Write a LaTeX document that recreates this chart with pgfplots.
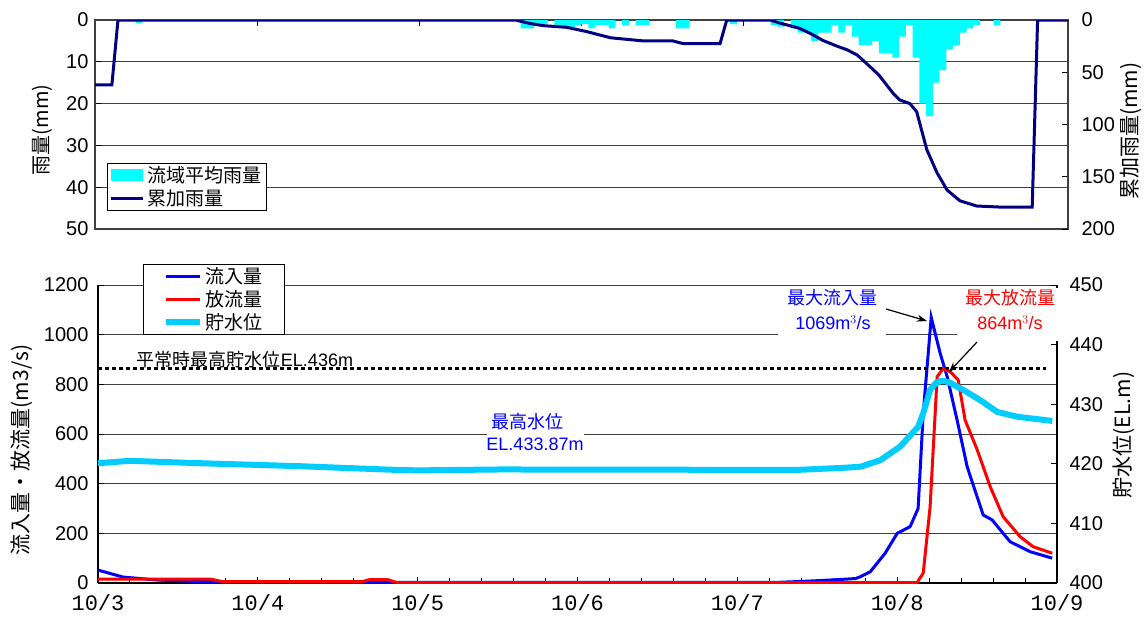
\documentclass[border=0pt]{standalone}
\usepackage{pgfplots}
\pgfplotsset{compat=1.18}
\usepackage{pgfplotstable}
\usetikzlibrary{arrows.meta}
\usepackage{fontspec}
\setmainfont{Liberation Sans}
\newfontfamily\jp{Noto Sans CJK JP}
\newfontfamily\mono{Liberation Mono}
\definecolor{navy}{RGB}{0,0,128}
\definecolor{aqua}{RGB}{0,255,255}
\definecolor{skyc}{RGB}{0,204,255}
\definecolor{gridc}{RGB}{64,64,64}
\newcommand{\tk}{\fontsize{20}{24}\selectfont}
\pgfplotsset{/pgf/number format/1000 sep={}}

\pgfplotstableread{
h r
6.5 0.8
63.5 2
64.5 2
65.5 1.2
66.5 1
68.5 1.5
69.5 1.5
70.5 1.8
71.5 1.2
72.5 1
73.5 2
74.5 1.2
75.5 1.2
76.5 2
78.5 1.2
80.5 1.2
81.5 1.2
86.5 2
87.5 2
94.5 1
100.5 1.2
101.5 1.6
103.5 2
104.5 3
105.5 3
106.5 5
107.5 3
108.5 3
109.5 1.2
110.5 3
111.5 1.2
112.5 4
113.5 6
114.5 6
115.5 5
116.5 8
117.5 8
118.5 9
119.5 4
120.5 1.2
121.5 9
122.5 20
123.5 23
124.5 15
125.5 12
126.5 7
127.5 6
128.5 3
129.5 2
130.5 1.2
133.5 1.2
}\rain

\pgfplotstableread{
h c
0 62
2.5 62
3.4 0
62.2 0
64.3 3.2
66.3 5.4
69.8 7
72.7 11
76.3 17
81.1 20
85.5 20
87.1 22.7
92.5 22.7
93.5 0
99.9 0
101.4 3
104.3 8
106.2 14
107.7 19.5
109.8 25
111.3 28.5
112.8 33.5
114.7 44.7
116.0 52.6
118.1 70
119.1 76.5
120.6 80
121.6 87.7
123.1 124
124.6 146
126.1 162.7
128.0 173
130.5 178
133.9 179
138.7 179
139.5 0
144 0
}\cum

\pgfplotstableread{
d q
0 52
0.156 24
0.37 12
0.64 6
0.83 4
1.26 3
1.76 2
4.27 3
4.46 8
4.64 14
4.74 18
4.768 25
4.831 45
4.925 120
5.000 200
5.081 227
5.131 300
5.163 684
5.213 1069
5.269 925
5.313 830
5.375 656
5.438 468
5.538 274
5.594 254
5.707 166
5.832 126
5.970 100
}\inflow

\pgfplotstableread{
d q
0 16
0.70 16
0.776 6
1.658 6
1.70 14
1.81 14
1.87 2
5.125 2
5.163 40
5.206 307
5.250 831
5.288 864
5.332 851
5.382 817
5.425 656
5.501 536
5.582 388
5.663 267
5.770 186
5.851 146
5.970 120
}\outflow

\pgfplotstableread{
d w
0 420.1
0.2 420.5
0.638 420.1
1.264 419.6
1.89 418.95
2.015 418.9
2.516 419.05
3.767 419.0
4.393 419.0
4.643 419.3
4.768 419.5
4.894 420.6
5.019 422.9
5.131 426.2
5.163 428.5
5.206 432.4
5.240 433.5
5.269 433.87
5.300 433.85
5.332 433.6
5.413 432.4
5.519 430.7
5.626 428.7
5.751 427.9
5.970 427.2
}\level

\begin{document}
\begin{tikzpicture}
\path[use as bounding box] (0,0) rectangle (1147pt,625pt);

% ---------- top panel, left axis (rain bars)
\begin{axis}[
  at={(95pt,396pt)}, anchor=south west, scale only axis,
  width=973pt, height=209pt,
  xmin=0, xmax=144, ymin=0, ymax=50, y dir=reverse,
  xtick={0,24,...,144}, xtick pos=right, xticklabels={,,,,,,,},
  ytick={0,10,...,50}, ytick pos=left,
  ymajorgrids, grid style={color=gridc, line width=1pt},
  tick align=inside, major tick length=6pt,
  tick style={color=black, line width=1pt},
  axis line style={color=gridc, line width=1.5pt},
  /pgf/number format/assume math mode=true,
  yticklabel style={font=\tk, xshift=-3pt},
  legend style={at={(0.0123,0.316)}, anchor=north west, draw=black, line width=1pt,
    fill=white, inner xsep=2pt, inner ysep=0pt,
    font=\jp\fontsize{19}{22}\selectfont,
    nodes={inner xsep=3pt, inner ysep=3pt}, cells={anchor=west}},
]
\addplot[ybar, bar width=1, bar shift=0pt, fill=aqua, draw=none,
  legend image code/.code={\fill[aqua] (0pt,-6pt) rectangle (32pt,6pt);}]
  table[x=h, y=r] {\rain};
\addlegendentry{流域平均雨量}
\addlegendimage{legend image code/.code={\draw[navy, line width=3pt] (0pt,0pt) -- (32pt,0pt);}}
\addlegendentry{累加雨量}
\end{axis}

% ---------- top panel, right axis (cumulative)
\begin{axis}[
  at={(95pt,396pt)}, anchor=south west, scale only axis,
  width=973pt, height=209pt,
  xmin=0, xmax=144, ymin=0, ymax=200, y dir=reverse,
  hide x axis, axis y line*=right,
  ytick={0,50,...,200},
  tick align=inside, major tick length=6pt,
  tick style={color=black, line width=1pt},
  axis line style={color=gridc, line width=1.5pt},
  /pgf/number format/assume math mode=true,
  yticklabel style={font=\tk, xshift=10pt},
]
\addplot[navy, line width=3pt] table[x=h, y=c] {\cum};
\end{axis}

% ---------- bottom panel, left axis (flows)
\begin{axis}[
  at={(98pt,42pt)}, anchor=south west, scale only axis,
  width=959pt, height=298pt,
  xmin=0, xmax=6, ymin=0, ymax=1200,
  axis x line*=bottom, axis y line*=left,
  xtick={0,...,6}, xticklabels={10/3,10/4,10/5,10/6,10/7,10/8,10/9},
  minor x tick num=4,
  ytick={0,200,...,1200}, ymajorgrids, grid style={color=gridc, line width=1pt},
  tick align=inside, major tick length=6pt, minor tick length=5pt,
  tick style={color=black, line width=1pt},
  axis line style={color=black, line width=1.5pt},
  /pgf/number format/assume math mode=true,
  xticklabel style={font=\mono\fontsize{22}{26}\selectfont, yshift=-8pt},
  yticklabel style={font=\tk, xshift=-6pt},
]
\addplot[blue, line width=3pt] table[x=d, y=q] {\inflow};
\addplot[red, line width=3pt] table[x=d, y=q] {\outflow};
\end{axis}

% ---------- bottom panel, right axis (water level)
\begin{axis}[
  at={(98pt,42pt)}, anchor=south west, scale only axis,
  width=959pt, height=298pt,
  xmin=0, xmax=6, ymin=400, ymax=450,
  hide x axis, axis y line*=right,
  ytick={400,410,...,450},
  tick align=inside, major tick length=6pt,
  tick style={color=black, line width=1pt},
  axis line style={color=black, line width=1.5pt},
  /pgf/number format/assume math mode=true,
  yticklabel style={font=\tk, xshift=9pt},
  legend style={at={(0.047,1.0705)}, anchor=north west, draw=black, line width=1pt,
    fill=white, inner xsep=19pt, inner ysep=0.5pt,
    font=\jp\fontsize{19}{22}\selectfont,
    nodes={inner xsep=3pt, inner ysep=2.75pt}, cells={anchor=west}},
]
\addlegendimage{legend image code/.code={\draw[blue, line width=3pt] (0pt,0pt) -- (34pt,0pt);}}
\addlegendentry{流入量}
\addlegendimage{legend image code/.code={\draw[red, line width=3pt] (0pt,0pt) -- (34pt,0pt);}}
\addlegendentry{放流量}
\addplot[skyc, line width=6pt, line join=round,
  legend image code/.code={\draw[skyc, line width=6pt] (0pt,0pt) -- (34pt,0pt);}]
  table[x=d, y=w] {\level};
\addlegendentry{貯水位}
\addplot[black, line width=2.2pt, dash pattern=on 4pt off 3pt, forget plot]
  coordinates {(0,436) (5.93,436)};
\end{axis}

% ---------- annotations
\node[font=\jp\fontsize{18}{22}\selectfont, text=black] at (245pt,265pt) {平常時最高貯水位\rmfamily EL.436m};

\fill[white] (487pt,170pt) rectangle (584pt,213pt);
\node[font=\jp\fontsize{18}{22}\selectfont, text=blue] at (527pt,203pt) {最高水位};
\node[font=\fontsize{18}{22}\selectfont, text=blue] at (535pt,181pt) {EL.433.87m};

\fill[white] (778pt,284pt) rectangle (886pt,337pt);
\node[font=\jp\fontsize{18}{22}\selectfont, text=blue] at (832pt,327pt) {最大流入量};
\node[font=\fontsize{18}{22}\selectfont, text=blue] at (833pt,302pt) {1069m$^{3}$/s};

\fill[white] (957pt,284pt) rectangle (1060pt,337pt);
\node[font=\jp\fontsize{18}{22}\selectfont, text=red] at (1010pt,327pt) {最大放流量};
\node[font=\fontsize{18}{22}\selectfont, text=red] at (1010pt,302pt) {864m$^{3}$/s};

\draw[-{Stealth[length=10pt,width=7pt]}, line width=1.2pt] (886pt,316pt) -- (927pt,304pt);
\draw[-{Stealth[length=10pt,width=7pt]}, line width=1.2pt] (977pt,283pt) -- (949pt,253pt);

% ---------- axis titles
\node[rotate=90, font=\jp\fontsize{20}{24}\selectfont] at (42pt,495pt) {雨量(mm)};
\node[rotate=90, font=\jp\fontsize{21}{24}\selectfont] at (1131pt,494pt) {累加雨量(mm)};
\node[rotate=90, font=\jp\fontsize{21}{24}\selectfont] at (22pt,175pt) {流入量・放流量(m3/s)};
\node[rotate=90, font=\jp\fontsize{21}{24}\selectfont] at (1124pt,190pt) {貯水位(EL.m)};
\end{tikzpicture}
\end{document}
